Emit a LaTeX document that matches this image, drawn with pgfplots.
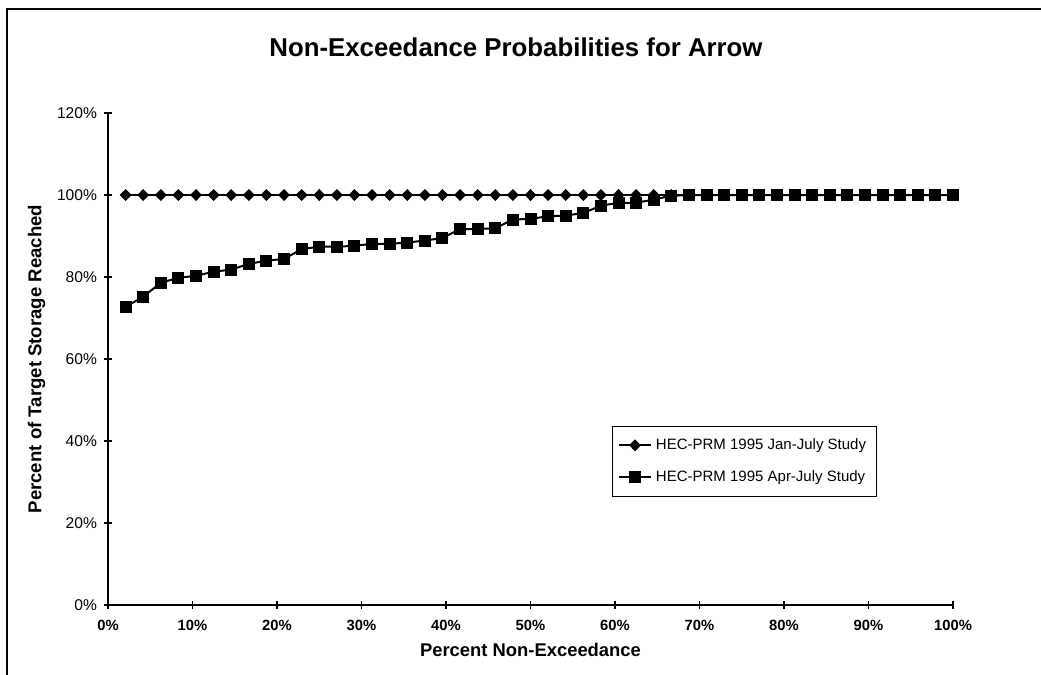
\documentclass[border=0pt]{standalone}
\usepackage{pgfplots}
\pgfplotsset{compat=1.18}
\usepackage{fontspec}
\setmainfont{Liberation Sans}
\begin{document}
\begin{tikzpicture}
\useasboundingbox (0,0) rectangle (520.5pt,-337.5pt);
\draw[line width=0.7pt] (3.5pt,-337.5pt) -- (3.5pt,-4.5pt) -- (520.5pt,-4.5pt);
\node[font=\bfseries\fontsize{12.9}{15}\selectfont] at (258pt,-23.5pt) {Non-Exceedance Probabilities for Arrow};
\begin{axis}[
  at={(54pt,-302.5pt)}, anchor=origin,
  scale only axis, width=422.5pt, height=246pt,
  xmin=0, xmax=100, ymin=0, ymax=120,
  axis x line*=bottom, axis y line*=left,
  axis line style={line width=0.6pt, -},
  tick align=center, major tick length=4pt,
  tick style={line width=0.6pt, black},
  xtick={0,10,...,100}, ytick={0,20,...,120},
  xticklabels={0\%,10\%,20\%,30\%,40\%,50\%,60\%,70\%,80\%,90\%,100\%},
  yticklabels={0\%,20\%,40\%,60\%,80\%,100\%,120\%},
  x tick label style={font=\bfseries\fontsize{7.4}{8}\selectfont, yshift=-2pt},
  y tick label style={font=\fontsize{7.8}{9}\selectfont},
  xlabel={Percent Non-Exceedance},
  ylabel={Percent of Target Storage Reached},
  xlabel style={font=\bfseries\fontsize{9.2}{11}\selectfont, yshift=0.5pt},
  ylabel style={font=\bfseries\fontsize{9.3}{11}\selectfont, yshift=-1pt},
  clip=false,
  legend style={at={(0.596,0.364)}, anchor=north west, draw=black, line width=0.5pt,
    font=\fontsize{7.5}{9}\selectfont, inner xsep=3pt, inner ysep=4pt, row sep=5pt,
    cells={anchor=west}},
  legend cell align=left,
  legend image code/.code={
    \draw[mark repeat=2,mark phase=2,#1] plot coordinates {(0cm,0cm) (0.28cm,0cm) (0.56cm,0cm)};},
]
\addplot[black, line width=1pt, mark=diamond*, mark size=2.3pt, mark options={solid, xscale=1.3}] coordinates {
(2.0833,100)(4.1667,100)(6.25,100)(8.3333,100)(10.4167,100)(12.5,100)(14.5833,100)(16.6667,100)
(18.75,100)(20.8333,100)(22.9167,100)(25,100)(27.0833,100)(29.1667,100)(31.25,100)(33.3333,100)
(35.4167,100)(37.5,100)(39.5833,100)(41.6667,100)(43.75,100)(45.8333,100)(47.9167,100)(50,100)
(52.0833,100)(54.1667,100)(56.25,100)(58.3333,100)(60.4167,100)(62.5,100)(64.5833,100)(66.6667,100)
(68.75,100)(70.8333,100)(72.9167,100)(75,100)(77.0833,100)(79.1667,100)(81.25,100)(83.3333,100)
(85.4167,100)(87.5,100)(89.5833,100)(91.6667,100)(93.75,100)(95.8333,100)(97.9167,100)(100,100)
};
\addlegendentry{HEC-PRM 1995 Jan-July Study}
\addplot[black, line width=1pt, mark=square*, mark size=2.5pt, mark options={solid}] coordinates {
(2.0833,72.7)(4.1667,75.2)(6.25,78.6)(8.3333,79.8)(10.4167,80.3)(12.5,81.3)(14.5833,81.8)(16.6667,83.2)
(18.75,84.0)(20.8333,84.4)(22.9167,86.8)(25,87.4)(27.0833,87.4)(29.1667,87.6)(31.25,88.1)(33.3333,88.1)
(35.4167,88.4)(37.5,88.9)(39.5833,89.5)(41.6667,91.7)(43.75,91.7)(45.8333,91.9)(47.9167,94.0)(50,94.2)
(52.0833,94.8)(54.1667,95.0)(56.25,95.6)(58.3333,97.4)(60.4167,98.1)(62.5,98.1)(64.5833,98.9)(66.6667,99.8)
(68.75,100)(70.8333,100)(72.9167,100)(75,100)(77.0833,100)(79.1667,100)(81.25,100)(83.3333,100)
(85.4167,100)(87.5,100)(89.5833,100)(91.6667,100)(93.75,100)(95.8333,100)(97.9167,100)(100,100)
};
\addlegendentry{HEC-PRM 1995 Apr-July Study}
\end{axis}
\end{tikzpicture}
\end{document}
